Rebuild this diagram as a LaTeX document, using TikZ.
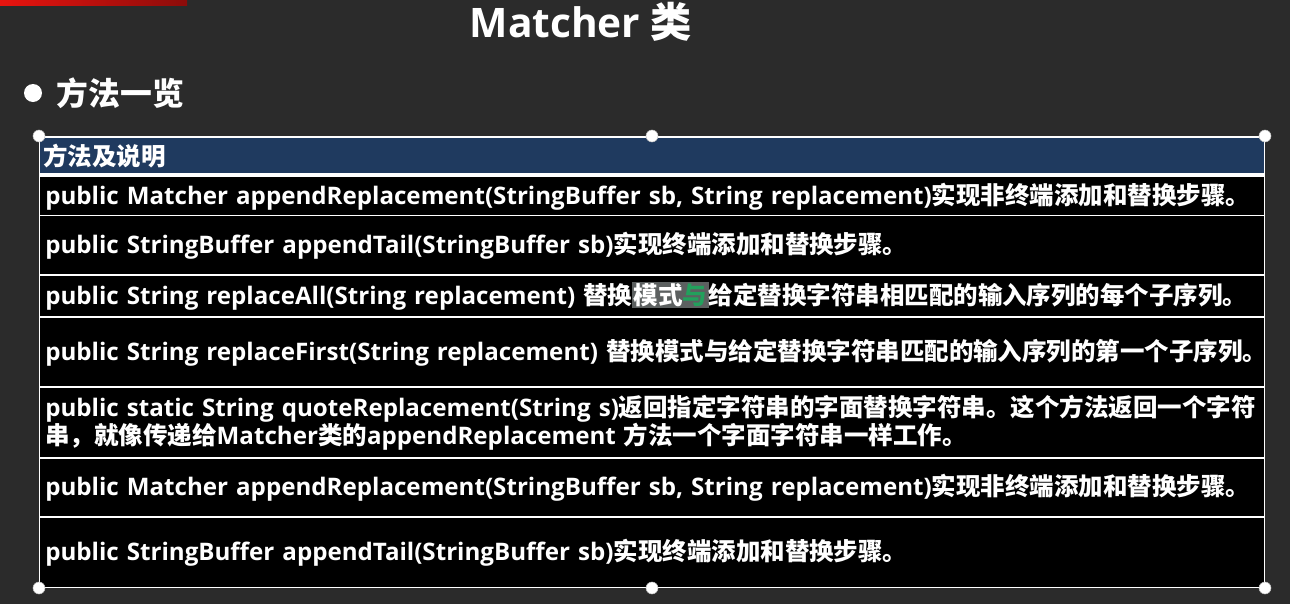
\documentclass[tikz,border=0pt]{standalone}
\usepackage{fontspec}
\setmainfont{Open Sans}
\newfontfamily\zh{Noto Sans CJK SC}[Scale=1.015]
\definecolor{board}{HTML}{2B2B2B}
\definecolor{headblue}{HTML}{1F3A5F}
\definecolor{selgray}{HTML}{5C6060}
\definecolor{selgreen}{HTML}{22A05C}
\definecolor{barred}{HTML}{E8140F}
\definecolor{bardark}{HTML}{8C0C0A}
\newcommand{\pxu}{0.75pt}
\hyphenpenalty=10000

\begin{document}
\begin{tikzpicture}[x=0.75pt,y=-0.75pt,%
title/.style={text=white,font=\fontsize{30.5}{34}\selectfont\bfseries},
heading/.style={anchor=west,text=white,font=\zh\fontsize{23.5}{28}\selectfont\bfseries},
row/.style={anchor=north west,fill=black,text=white,align=left,
  inner xsep=5*\pxu,inner ysep=0pt,text width=1214*\pxu,
  font=\fontsize{18.1}{21}\selectfont\bfseries},
headrow/.style={style=row,fill=headblue,inner xsep=3*\pxu,text width=1218*\pxu},
handle/.style={circle,fill=white,draw=gray!50,line width=0.4pt,minimum size=12*\pxu,inner sep=0pt}
]
\useasboundingbox (0,0) rectangle (1290,604);
\fill[board] (0,0) rectangle (1290,604);
\shade[left color=barred,right color=bardark] (0,0) rectangle (187,5);
\node[style=title] (title) at (581,22) {Matcher {\zh 类}};
\node[circle,fill=white,minimum size=18*\pxu,inner sep=0pt] (dot) at (33,93) {};
\node[style=heading] (list) at (52,93) {方法一览};
% table
\fill[white] (39,136) rectangle (1265,588);
\node[style=headrow,minimum height=35*\pxu] (head) at (40,138) {\zh 方法及说明};
\node[style=row,minimum height=38*\pxu] (r1) at (40,177)
  {public Matcher appendReplacement(StringBuffer sb, String replacement){\zh 实现非终端添加和替换步骤。}};
\node[style=row,minimum height=58*\pxu] (r2) at (40,216)
  {public StringBuffer appendTail(StringBuffer sb){\zh 实现终端添加和替换步骤。}};
\node[style=row,minimum height=40*\pxu] (r3) at (40,276)
  {public String replaceAll(String replacement) {\zh 替换{\setlength{\fboxsep}{1pt}\colorbox{selgray}{模式\textcolor{selgreen}{与}}}给定替换字符串相匹配的输入序列的每个子序列。}};
\node[style=row,minimum height=68*\pxu] (r4) at (40,318)
  {public String replaceFirst(String replacement) {\zh 替换模式与给定替换字符串匹配的输入序列的第一个子序列。}};
\node[style=row,minimum height=69*\pxu] (r5) at (40,388)
  {public static String quoteReplacement(String s){\zh 返回指定字符串的字面替换字符串。这个方法返回一个字符}\\
   {\zh 串，就像传递给}Matcher{\zh 类的}appendReplacement {\zh 方法一个字面字符串一样工作。}};
\node[style=row,minimum height=57*\pxu] (r6) at (40,459)
  {public Matcher appendReplacement(StringBuffer sb, String replacement){\zh 实现非终端添加和替换步骤。}};
\node[style=row,minimum height=69*\pxu] (r7) at (40,518)
  {public StringBuffer appendTail(StringBuffer sb){\zh 实现终端添加和替换步骤。}};
% selection handles
\node[style=handle] (h1) at (39,136) {};
\node[style=handle] (h2) at (652,136) {};
\node[style=handle] (h3) at (1265,136) {};
\node[style=handle] (h4) at (39,588) {};
\node[style=handle] (h5) at (652,588) {};
\node[style=handle] (h6) at (1265,588) {};
\end{tikzpicture}
\end{document}
